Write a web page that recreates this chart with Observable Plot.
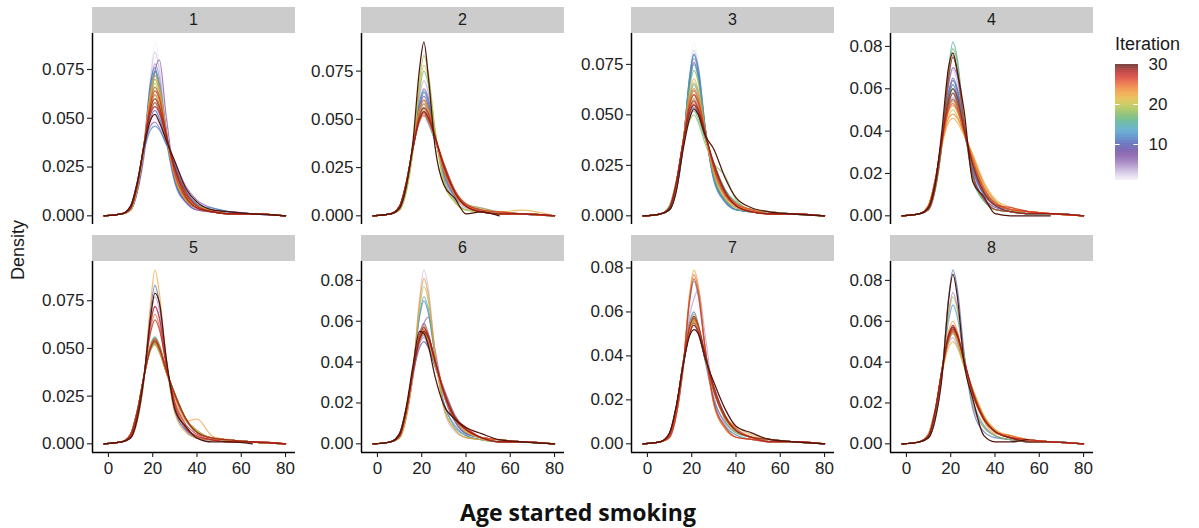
<!DOCTYPE html>
<html><head><meta charset="utf-8">
<script src="https://cdn.jsdelivr.net/npm/d3@7"></script>
<script src="https://cdn.jsdelivr.net/npm/@observablehq/plot@0.6"></script>
<style>
body{margin:0;background:#fff;font-family:"Liberation Sans",Arial,sans-serif;}
#chart{position:relative;width:1199px;height:528px;overflow:hidden;background:#fff;}
.abs{position:absolute;}
.strip{position:absolute;background:#cccccc;color:#1a1a1a;font-size:16px;display:flex;align-items:center;justify-content:center;}
</style></head><body><div id="chart"></div>
<script>
// Age grid (years) at which each density curve is read
const ages = [-2, 6, 10, 13, 16, 19, 21, 23, 26, 30, 35, 40, 47, 55, 65, 80];
const panelLabels = ["1","2","3","4","5","6","7","8"];
const yTickStep = [0.025, 0.025, 0.025, 0.02, 0.025, 0.02, 0.02, 0.02];
const xTicks = [0, 20, 40, 60, 80];
const legendTicks = [10, 20, 30];
const xTitle = "Age started smoking";
const yTitle = "Density";
const legendTitle = "Iteration";
// Density x 1000, one string per iteration (1..30); "-" = curve ended
const panel1 = [
"0 1 3 12 33 72 89 79 45 16 6 3 2 1 1 0",
"0 1 5 17 34 47 50 47 38 27 14 7 4 2 1 0",
"0 1 3 12 33 70 84 75 45 17 7 3 2 1 1 0",
"0 1 4 16 35 52 56 52 39 25 12 6 3 2 1 0",
"0 1 3 13 34 67 78 71 44 18 7 3 2 2 1 0",
"0 1 5 17 34 46 48 45 37 27 15 8 4 2 1 0",
"0 1 3 12 30 58 74 80 52 20 7 3 2 1 1 0",
"0 1 4 15 36 56 62 57 41 23 11 5 3 1 1 0",
"0 1 3 13 34 64 74 67 44 19 8 4 2 1 1 0",
"0 1 5 17 35 50 54 50 39 26 13 6 3 2 1 0",
"0 1 3 13 36 68 76 66 40 17 7 4 3 1 1 0",
"0 1 5 17 33 44 46 44 37 26 12 5 4 2 1 0",
"0 1 3 14 35 63 72 66 43 20 8 4 2 1 1 0",
"0 1 4 16 36 53 58 53 40 24 12 6 3 1 1 0",
"0 1 3 13 34 64 74 68 45 19 8 4 2 1 1 0",
"0 1 4 15 36 59 66 61 42 21 10 5 2 1 1 0",
"0 1 3 14 35 62 70 64 43 20 9 4 2 1 1 0",
"0 1 4 16 36 55 60 55 40 24 11 5 3 1 1 0",
"0 1 4 14 35 60 68 62 42 21 9 4 2 1 1 0",
"0 1 4 15 36 57 64 59 41 22 10 5 2 1 1 0",
"0 1 3 14 35 63 72 66 44 21 8 4 2 1 1 0",
"0 1 4 15 36 56 62 57 41 23 11 5 3 1 1 0",
"0 1 3 14 35 62 70 65 44 20 8 4 2 1 1 0",
"0 1 4 16 36 55 60 55 41 24 11 5 2 1 1 0",
"0 1 4 15 36 59 66 61 43 21 9 4 2 1 1 0",
"0 1 4 16 36 53 58 54 41 24 11 5 2 1 1 0",
"0 1 4 15 36 57 64 60 43 22 9 4 2 1 1 0",
"0 1 4 16 35 52 56 53 41 25 12 5 2 1 1 0",
"0 1 4 16 36 55 60 56 42 24 10 4 2 1 1 0",
"0 1 5 17 35 49 52 48 39 28 14 7 3 2 1 0"];
const panel2 = [
"0 1 5 17 34 47 50 47 38 27 14 7 3 2 1 0",
"0 1 4 16 35 51 55 51 40 26 13 6 3 2 1 0",
"0 1 5 17 35 49 52 49 39 26 13 6 3 2 1 0",
"0 1 3 14 35 62 70 64 43 20 9 4 2 1 1 0",
"0 1 4 16 36 53 58 53 40 24 12 6 3 1 1 0",
"0 1 4 15 36 59 66 61 42 21 10 5 2 1 1 0",
"0 1 5 17 35 50 54 50 40 26 12 6 3 2 1 0",
"0 1 4 15 36 56 62 57 41 23 11 5 3 1 1 0",
"0 1 4 16 35 52 56 52 40 25 12 6 3 1 1 0",
"0 1 4 15 36 57 64 59 41 22 10 5 3 1 1 0",
"0 1 5 17 35 49 52 48 39 27 13 6 3 2 1 0",
"0 1 4 16 36 55 60 55 40 24 11 6 4 2 1 0",
"0 1 4 15 36 58 65 60 42 22 10 5 2 1 1 0",
"0 1 5 17 35 50 54 50 39 26 13 6 3 2 1 0",
"0 1 4 16 36 53 58 53 40 24 12 6 3 1 1 0",
"0 1 4 16 35 52 56 52 40 25 12 6 3 1 1 0",
"0 1 3 13 34 65 75 68 44 19 8 3 2 1 1 0",
"0 1 5 17 35 49 52 49 39 26 13 6 3 2 1 0",
"0 1 3 12 33 70 83 74 45 17 7 3 2 1 1 0",
"0 1 3 13 34 67 78 71 44 18 7 3 2 1 1 0",
"0 1 4 16 36 55 60 55 41 24 11 5 3 2 1 0",
"0 1 4 16 35 51 55 52 40 25 12 6 4 2 3 0",
"0 1 4 16 36 53 58 54 41 24 11 5 3 1 1 0",
"0 1 5 17 35 49 52 49 40 27 13 6 3 2 1 0",
"0 1 4 16 36 55 60 56 42 24 11 5 2 1 1 0",
"0 1 5 17 35 50 54 51 41 26 12 5 2 1 1 0",
"0 1 5 17 35 50 53 50 41 27 13 6 3 2 1 0",
"0 1 4 16 35 52 56 53 41 25 12 5 2 1 1 0",
"0 1 5 17 35 50 54 51 41 26 12 5 2 1 1 0",
"0 1 4 15 38 76 90 72 36 16 9 1 2 0 - -"];
const panel3 = [
"0 1 3 12 33 71 86 76 45 17 6 3 2 1 1 0",
"0 1 4 16 35 52 56 52 39 25 12 6 3 2 1 0",
"0 1 3 12 33 69 82 74 45 17 7 3 2 1 1 0",
"0 1 4 16 36 53 58 53 40 24 12 6 3 1 1 0",
"0 1 3 13 34 67 78 71 44 18 7 3 2 1 1 0",
"0 1 4 16 36 53 57 52 40 25 12 6 3 1 1 0",
"0 1 4 15 36 56 62 57 41 23 11 5 3 1 1 0",
"0 1 4 16 35 51 55 51 39 25 13 6 3 2 1 0",
"0 1 3 13 34 65 76 69 44 19 8 3 2 1 1 0",
"0 1 4 16 36 55 60 55 40 24 11 5 3 1 1 0",
"0 1 3 13 34 68 80 72 44 18 7 3 2 1 1 0",
"0 1 5 17 35 50 54 50 39 26 13 6 3 2 1 0",
"0 1 3 13 34 68 80 73 45 18 7 3 2 1 1 0",
"0 1 4 15 36 58 65 60 42 22 10 5 2 1 1 0",
"0 1 3 13 34 65 75 68 44 19 8 3 2 1 1 0",
"0 1 5 17 35 49 52 48 38 26 13 7 3 2 1 0",
"0 1 3 14 35 63 72 66 43 20 8 4 2 1 1 0",
"0 1 5 17 34 47 50 46 36 26 20 8 3 2 1 0",
"0 1 4 15 36 59 66 61 42 21 10 5 2 1 1 0",
"0 1 4 16 36 53 58 53 40 24 12 6 3 1 1 0",
"0 1 4 15 36 56 62 57 41 23 11 5 3 1 1 0",
"0 1 4 16 36 55 60 55 40 24 11 5 3 2 1 0",
"0 1 4 14 35 60 68 62 43 21 9 4 2 1 1 0",
"0 1 4 16 35 52 56 52 40 25 12 6 3 1 1 0",
"0 1 4 15 36 57 63 58 42 23 10 5 2 1 1 0",
"0 1 4 16 35 51 55 51 40 26 12 6 3 1 1 0",
"0 1 4 16 36 55 60 56 42 24 11 5 2 1 1 0",
"0 1 4 16 36 53 57 53 41 25 12 5 2 1 1 0",
"0 1 4 16 35 51 55 52 41 26 12 5 2 1 1 0",
"0 1 3 12 32 48 53 50 40 33 19 9 4 2 1 0"];
const panel4 = [
"0 1 3 14 35 63 72 66 43 20 8 4 2 1 1 0",
"0 1 4 16 36 55 60 55 40 24 11 5 3 1 1 0",
"0 1 4 14 35 61 69 63 43 21 9 4 2 1 1 0",
"0 1 4 16 35 52 56 52 39 25 12 6 3 2 1 0",
"0 1 4 15 36 56 62 57 41 23 11 5 3 1 1 0",
"0 1 4 16 36 55 60 55 40 24 11 5 3 1 1 0",
"0 1 3 14 35 62 70 66 44 20 8 4 2 1 1 0",
"0 1 4 16 36 53 58 53 40 24 12 6 3 1 1 0",
"0 1 4 15 36 57 64 59 41 22 10 5 3 1 1 0",
"0 1 4 16 35 51 55 51 39 25 13 6 3 2 1 0",
"0 1 4 15 36 58 65 60 42 22 10 5 2 1 1 0",
"0 1 4 16 36 55 60 55 40 24 11 5 3 1 1 0",
"0 1 3 13 34 65 75 68 44 19 8 3 2 1 1 0",
"0 1 4 15 36 56 62 57 41 23 11 5 3 1 1 0",
"0 1 3 12 33 69 82 74 45 17 7 3 2 1 1 0",
"0 1 4 16 36 53 58 53 40 24 12 6 3 1 1 0",
"0 1 3 13 34 67 79 72 44 18 7 3 2 1 1 0",
"0 1 4 16 36 55 60 55 40 24 11 5 3 1 1 0",
"0 1 3 13 34 65 76 69 44 19 8 3 2 1 1 0",
"0 1 5 17 34 47 50 47 39 28 14 7 3 2 1 0",
"0 1 5 17 35 50 54 50 40 27 13 6 3 2 1 0",
"0 1 5 17 33 44 46 44 38 29 16 8 4 2 1 0",
"0 1 5 17 35 49 52 49 40 27 13 6 3 2 1 0",
"0 1 5 17 34 46 48 46 39 28 15 7 3 2 1 0",
"0 1 4 16 35 51 55 52 40 26 12 6 3 2 1 0",
"0 1 5 17 35 50 53 50 40 26 13 6 3 2 1 0",
"0 1 4 16 36 53 58 54 41 24 11 5 4 2 1 0",
"0 1 3 13 34 65 75 68 44 19 8 3 2 1 1 0",
"0 1 4 16 36 55 60 56 41 24 11 5 2 1 1 0",
"0 1 4 15 40 70 77 68 50 16 9 1 0 0 0 -"];
const panel5 = [
"0 1 3 13 34 68 80 72 44 18 7 3 2 1 1 0",
"0 1 4 16 35 52 56 52 39 25 12 6 3 2 1 0",
"0 1 4 16 35 51 55 51 39 25 13 6 3 2 1 0",
"0 1 3 13 34 66 77 70 44 18 7 3 2 1 1 0",
"0 1 5 17 35 50 54 50 39 26 13 6 3 2 1 0",
"0 1 4 16 35 51 55 51 39 25 13 6 3 2 1 0",
"0 1 3 14 35 63 72 66 43 20 8 4 2 1 1 0",
"0 1 5 17 35 50 53 49 38 26 13 6 3 2 1 0",
"0 1 4 16 35 51 55 51 39 25 13 6 3 2 1 0",
"0 1 5 17 35 50 54 50 39 26 13 6 3 2 1 0",
"0 1 3 12 33 70 83 74 45 17 7 3 2 1 1 0",
"0 1 5 17 35 50 53 49 38 26 13 6 3 2 1 0",
"0 1 4 16 35 51 55 51 39 25 13 6 3 2 1 0",
"0 1 5 17 35 49 52 48 38 26 13 7 3 2 1 0",
"0 1 5 17 35 50 53 49 38 26 13 6 3 2 1 0",
"0 1 4 16 35 52 56 52 39 25 12 6 3 2 1 0",
"0 1 5 17 35 49 52 48 38 26 13 7 3 2 1 0",
"0 1 5 17 35 50 54 50 39 26 13 6 3 2 1 0",
"0 1 5 17 35 50 53 49 38 26 13 6 3 2 1 0",
"0 1 4 16 35 51 55 51 39 25 13 6 3 2 1 0",
"0 1 5 17 35 49 52 48 38 26 13 7 3 2 1 0",
"0 1 3 12 33 73 91 79 45 16 6 3 2 1 1 0",
"0 1 5 17 35 50 54 50 38 24 12 13 4 2 1 0",
"0 1 5 17 35 50 53 49 38 26 13 6 3 2 1 0",
"0 1 4 14 35 60 68 62 42 21 9 4 2 1 1 0",
"0 1 4 16 35 51 55 51 39 25 13 6 3 2 1 0",
"0 1 3 14 35 63 72 66 43 20 8 4 2 1 1 0",
"0 1 4 15 36 58 65 60 42 22 10 5 2 1 1 0",
"0 1 5 17 35 50 54 50 39 26 13 6 3 2 1 0",
"0 1 3 13 34 66 79 74 46 18 9 3 1 1 0 -"];
const panel6 = [
"0 1 3 13 34 68 80 72 44 18 7 3 2 1 1 0",
"0 1 5 17 35 50 54 50 39 26 13 6 3 2 1 0",
"0 1 3 12 33 71 85 76 45 17 6 3 2 1 1 0",
"0 1 4 16 36 53 58 53 40 24 12 6 3 1 1 0",
"0 1 5 17 35 49 52 48 38 26 13 7 3 2 1 0",
"0 1 4 14 32 52 59 62 46 24 11 5 3 1 1 0",
"0 1 4 16 36 54 59 54 40 24 11 5 3 1 1 0",
"0 1 4 16 35 51 55 51 39 25 13 6 3 2 1 0",
"0 1 5 17 34 47 50 47 38 27 14 7 3 2 1 0",
"0 1 4 16 35 52 56 52 39 25 12 6 3 2 1 0",
"0 1 5 17 35 50 54 50 39 26 13 6 3 2 1 0",
"0 1 3 14 35 62 70 64 43 20 9 4 2 1 1 0",
"0 1 4 16 36 53 57 52 40 25 12 6 3 1 1 0",
"0 1 5 17 35 50 53 49 38 26 13 6 3 2 1 0",
"0 1 3 14 35 63 72 66 43 20 8 4 2 1 1 0",
"0 1 4 16 35 51 55 51 39 25 13 6 3 2 1 0",
"0 1 4 16 35 52 56 52 39 25 12 6 3 2 1 0",
"0 1 5 17 35 50 54 50 39 26 13 6 3 2 1 0",
"0 1 3 13 34 66 77 70 44 18 7 3 2 1 1 0",
"0 1 4 16 35 51 55 51 39 25 13 6 3 2 1 0",
"0 1 4 16 36 53 58 53 40 24 12 6 3 1 1 0",
"0 1 4 16 35 52 56 52 39 25 12 6 3 2 1 0",
"0 1 3 13 34 69 81 73 45 18 7 3 2 1 1 0",
"0 1 5 17 35 50 54 50 40 26 13 7 3 2 1 0",
"0 1 4 16 35 52 56 53 41 26 12 7 3 2 1 0",
"0 1 4 16 35 51 55 52 41 26 13 8 3 2 1 0",
"0 1 4 16 35 51 55 52 41 26 13 8 3 1 1 0",
"0 1 4 16 36 53 57 53 41 25 12 7 3 1 1 0",
"0 1 4 16 35 51 55 52 40 25 13 7 3 1 1 0",
"0 1 5 18 38 55 54 48 33 19 12 8 5 2 1 0"];
const panel7 = [
"0 1 4 14 35 60 68 62 42 21 9 4 2 1 1 0",
"0 1 4 16 35 52 56 52 39 25 12 6 3 2 1 0",
"0 1 4 16 35 51 55 51 39 25 13 6 3 2 1 0",
"0 1 3 13 32 58 66 70 50 22 9 4 2 1 1 0",
"0 1 4 16 36 53 58 53 40 24 12 6 3 1 1 0",
"0 1 4 16 35 52 56 52 39 25 12 6 3 2 1 0",
"0 1 5 17 35 50 54 50 39 26 13 6 3 2 1 0",
"0 1 4 16 36 53 57 52 40 25 12 6 3 1 1 0",
"0 1 4 16 35 51 55 51 39 25 13 6 3 2 1 0",
"0 1 4 16 36 53 58 53 40 24 12 6 3 1 1 0",
"0 1 4 16 36 55 60 54 38 20 10 5 3 1 1 0",
"0 1 4 16 36 53 57 52 40 25 12 6 3 1 1 0",
"0 1 4 16 35 52 56 52 39 25 12 6 3 2 1 0",
"0 1 3 13 34 64 74 67 44 19 8 4 2 1 1 0",
"0 1 4 16 35 51 55 51 39 25 13 6 3 2 1 0",
"0 1 4 16 36 53 57 52 40 25 12 6 3 1 1 0",
"0 1 4 16 35 52 56 52 39 25 12 6 3 2 1 0",
"0 1 4 16 36 53 58 53 40 24 12 6 3 1 1 0",
"0 1 4 16 36 54 59 54 40 24 11 5 3 1 1 0",
"0 1 4 16 36 53 57 52 40 25 12 6 3 1 1 0",
"0 1 4 16 35 52 56 52 39 25 12 6 3 2 1 0",
"0 1 3 13 34 68 79 72 44 18 7 3 2 1 1 0",
"0 1 4 16 35 52 56 52 40 25 12 8 4 2 1 0",
"0 1 4 16 35 51 55 51 40 25 13 7 3 2 1 0",
"0 1 3 13 34 66 77 70 44 18 7 3 2 1 1 0",
"0 1 4 16 36 53 57 53 41 25 12 7 3 1 1 0",
"0 1 3 13 34 65 75 68 44 19 8 3 2 1 1 0",
"0 1 4 16 36 53 58 54 41 24 12 6 3 1 1 0",
"0 1 5 17 35 50 54 51 41 26 13 6 3 2 1 0",
"0 1 5 17 35 49 52 50 39 28 16 8 5 2 1 0"];
const panel8 = [
"0 1 3 14 35 62 70 64 43 20 9 4 2 1 1 0",
"0 1 4 16 35 52 56 52 39 25 12 6 3 2 1 0",
"0 1 4 16 36 53 58 53 40 24 12 6 3 1 1 0",
"0 1 5 17 35 49 52 48 38 26 13 7 3 2 1 0",
"0 1 3 13 34 64 74 67 44 19 8 4 2 1 1 0",
"0 1 4 16 36 53 57 52 40 25 12 6 3 1 1 0",
"0 1 4 16 35 51 55 51 39 25 13 6 3 2 1 0",
"0 1 4 16 36 53 58 53 40 24 12 6 3 1 1 0",
"0 1 4 16 35 52 56 52 39 25 12 6 3 2 1 0",
"0 1 5 17 35 50 54 50 39 26 13 6 3 2 1 0",
"0 1 3 12 33 71 85 76 45 17 6 3 2 1 1 0",
"0 1 4 16 36 53 57 52 40 25 12 6 3 1 1 0",
"0 1 4 14 35 60 68 62 42 21 9 4 2 1 1 0",
"0 1 4 16 35 51 55 51 39 25 13 6 3 2 1 0",
"0 1 4 16 35 52 56 52 39 25 12 6 3 2 1 0",
"0 1 4 16 36 53 57 52 40 25 12 6 3 1 1 0",
"0 1 4 16 35 51 55 51 39 25 13 6 3 2 1 0",
"0 1 4 16 35 52 56 52 39 25 12 6 3 2 1 0",
"0 1 3 14 35 63 72 66 43 20 8 4 2 1 1 0",
"0 1 5 17 35 50 54 50 39 26 13 6 3 2 1 0",
"0 1 5 17 34 47 50 47 38 27 14 7 3 2 1 0",
"0 1 4 16 35 51 55 51 40 26 13 7 4 2 1 0",
"0 1 4 16 36 55 60 55 40 24 11 5 4 2 1 0",
"0 1 4 16 35 52 56 52 40 25 12 6 3 2 1 0",
"0 1 4 16 36 53 57 53 41 25 12 6 4 2 1 0",
"0 1 4 16 35 51 55 52 41 26 13 6 3 2 1 0",
"0 1 4 16 36 53 58 54 41 24 12 6 3 1 1 0",
"0 1 4 16 35 52 56 53 41 25 12 6 3 2 1 0",
"0 1 4 16 36 53 57 53 41 25 12 6 3 1 1 0",
"0 1 3 12 32 70 83 72 40 22 4 1 1 2 - -"];
const panels = [panel1, panel2, panel3, panel4, panel5, panel6, panel7, panel8];

// ---- styling ----
const iterColors = ["#f3f0f8","#e2d9ee","#cdbcdf","#b59dcf","#9f7fbf","#8c64b0","#7a4fa3","#6a449f","#5a4aa6","#4b57ad",
  "#456bb9","#4382c4","#4697c8","#48a3bd","#4aa7a0","#55ad80","#69b365","#87b956","#a6bd48","#c2bf40",
  "#d9b83a","#e9a834","#f09530","#f07e2e","#ea632b","#e04528","#d12b24","#b81f1f","#8e1c18","#4e140e"];
const colorOf = d3.scaleLinear().domain(d3.range(1, 31)).range(iterColors).interpolate(d3.interpolateRgb);
const colorScale = {type: "linear", domain: [1, 30], interpolate: t => colorOf(1 + 29 * t)};

const chart = document.getElementById("chart");
const colLeft = [92, 361, 631, 890], panelW = 203, panelH = 191;
const rowTop = [33, 261], stripTop = [7, 235];
const ML = 70, MR = 4, MT = 2;
const xDomain = [-7.2, 84.5];
const font = "Liberation Sans, Arial, sans-serif";

function place(el, left, top) {
  const d = document.createElement("div");
  d.className = "abs"; d.style.left = left + "px"; d.style.top = top + "px";
  d.appendChild(el); chart.appendChild(d); return d;
}

panels.forEach((strs, p) => {
  const c = p % 4, r = Math.floor(p / 4);
  const rows = [];
  strs.forEach((s, k) => s.split(" ").forEach((v, j) => {
    if (v !== "-") rows.push({age: ages[j], dens: +v / 1000, iter: k + 1});
  }));
  const max = d3.max(rows, d => d.dens);
  const yDomain = [-0.05 * max, 1.05 * max];
  const step = yTickStep[p];
  const yTicks = d3.range(0, yDomain[1] + 1e-9, step);
  const fmt = d3.format(step < 0.025 ? ".2f" : ".3f");
  const MB = r === 1 ? 40 : 2;
  const marks = [
    Plot.line(rows.filter(d => d.iter < 30), {x: "age", y: "dens", z: "iter", stroke: "iter", curve: "monotone-x", strokeWidth: 1.2, strokeOpacity: 0.72}),
    Plot.line(rows.filter(d => d.iter === 30), {x: "age", y: "dens", z: "iter", stroke: "iter", curve: "monotone-x", strokeWidth: 1.25, strokeOpacity: 1}),
    Plot.ruleX([xDomain[0]], {stroke: "#000", strokeWidth: 1.5}),
    Plot.axisY({ticks: yTicks, tickFormat: fmt, tickSize: 5, tickPadding: 3, fontSize: 17, color: "#1e1e1e", strokeWidth: 1.1, label: null})
  ];
  if (r === 1) {
    marks.push(Plot.ruleY([yDomain[0]], {stroke: "#000", strokeWidth: 1.5}));
    marks.push(Plot.axisX({ticks: xTicks, tickSize: 5, tickPadding: 4, fontSize: 17, color: "#1e1e1e", strokeWidth: 1.1, label: null}));
  }
  const svg = Plot.plot({
    width: ML + panelW + MR, height: MT + panelH + MB,
    marginLeft: ML, marginRight: MR, marginTop: MT, marginBottom: MB,
    style: {fontFamily: font, background: "transparent", overflow: "visible"},
    x: r === 1 ? {domain: xDomain} : {domain: xDomain, axis: null},
    y: {domain: yDomain},
    color: colorScale,
    marks
  });
  place(svg, colLeft[c] - ML, rowTop[r] - MT);
  const strip = document.createElement("div");
  strip.className = "strip";
  strip.style.left = colLeft[c] + "px"; strip.style.top = stripTop[r] + "px";
  strip.style.width = panelW + "px"; strip.style.height = "26px";
  strip.textContent = panelLabels[p];
  chart.appendChild(strip);
});

// legend colour bar
const barSteps = d3.range(1, 30, 0.1);
const LT = 5, LB = 5;
const legend = Plot.plot({
  width: 23 + 50, height: LT + 116 + LB,
  marginLeft: 0, marginRight: 50, marginTop: LT, marginBottom: LB,
  style: {fontFamily: font, background: "transparent", overflow: "visible"},
  x: {domain: [0, 1], axis: null},
  y: {domain: [1, 30]},
  color: colorScale,
  marks: [
    Plot.rect(barSteps, {x1: 0, x2: 1, y1: d => d, y2: d => Math.min(30, d + 0.12), fill: d => d + 0.05}),
    Plot.ruleY(legendTicks.filter(v => v < 30), {x1: 0, x2: 0.2, stroke: "white", strokeWidth: 1}),
    Plot.ruleY(legendTicks.filter(v => v < 30), {x1: 0.8, x2: 1, stroke: "white", strokeWidth: 1}),
    Plot.axisY({ticks: legendTicks, anchor: "right", tickSize: 0, tickPadding: 10, fontSize: 17, color: "#1e1e1e", label: null})
  ]
});
place(legend, 1115, 64 - LT);

const lt = document.createElement("div");
lt.className = "abs"; lt.textContent = legendTitle;
Object.assign(lt.style, {left: "1115px", top: "34px", fontSize: "18px", color: "#1a1a1a"});
chart.appendChild(lt);

const yt = document.createElement("div");
yt.className = "abs"; yt.textContent = yTitle;
Object.assign(yt.style, {left: "18px", top: "250px", fontSize: "18px", color: "#1a1a1a", transform: "translate(-50%,-50%) rotate(-90deg)", whiteSpace: "nowrap"});
chart.appendChild(yt);

const xt = document.createElement("div");
xt.className = "abs"; xt.textContent = xTitle;
Object.assign(xt.style, {left: "578px", top: "512px", fontSize: "23px", lineHeight: "1.05", fontWeight: "700", fontFamily: "'Open Sans', sans-serif", color: "#111", transform: "translate(-50%,-50%)", whiteSpace: "nowrap"});
chart.appendChild(xt);
</script></body></html>
